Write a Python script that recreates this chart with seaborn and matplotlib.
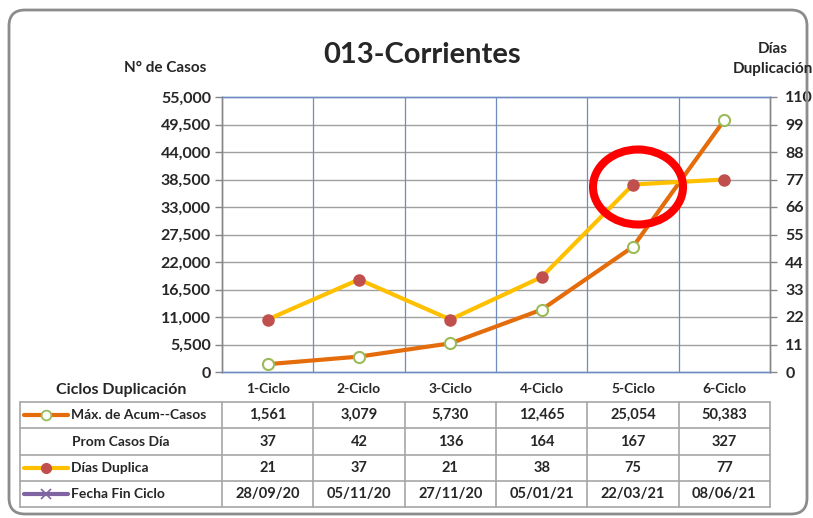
import matplotlib
matplotlib.use("Agg")
import matplotlib.pyplot as plt
import seaborn as sns
import pandas as pd
import numpy as np
from matplotlib.patches import FancyBboxPatch, Ellipse
from matplotlib.lines import Line2D
from matplotlib.ticker import FuncFormatter, FixedLocator

# ---------------- data ----------------
ciclos = ["1-Ciclo", "2-Ciclo", "3-Ciclo", "4-Ciclo", "5-Ciclo", "6-Ciclo"]
max_acum_casos = [1561, 3079, 5730, 12465, 25054, 50383]
prom_casos_dia = [37, 42, 136, 164, 167, 327]
dias_duplica = [21, 37, 21, 38, 75, 77]
fecha_fin_ciclo = ["28/09/20", "05/11/20", "27/11/20", "05/01/21", "22/03/21", "08/06/21"]
left_ticks = [0, 5500, 11000, 16500, 22000, 27500, 33000, 38500, 44000, 49500, 55000]
right_ticks = [0, 11, 22, 33, 44, 55, 66, 77, 88, 99, 110]

df = pd.DataFrame({"ciclo": ciclos, "pos": range(len(ciclos)),
                   "casos": max_acum_casos, "dias": dias_duplica})

# ---------------- style ----------------
sns.set_style("white")
plt.rcParams["font.family"] = ["Lato", "DejaVu Sans"]
plt.rcParams["font.weight"] = "bold"

W, H = 813, 518
fig = plt.figure(figsize=(W / 100, H / 100), dpi=100)

def fx(x):
    return x / W

def fy(y):
    return 1 - y / H

AX_L, AX_R, AX_T, AX_B = 222, 770, 97, 372
ax = fig.add_axes([fx(AX_L), fy(AX_B), fx(AX_R - AX_L), (AX_B - AX_T) / H])

ORANGE = "#E46C0A"
YELLOW = "#FFC000"
GREEN = "#9BBB59"
RED = "#C0504D"
PURPLE = "#8064A2"
GRID = "#A0A0A0"
VBLUE = "#6F8BBF"
AXGREY = "#868686"

# grid
for t in left_ticks[1:-1]:
    ax.axhline(t, color=GRID, lw=1.0, zorder=0)
for i in range(1, len(ciclos)):
    ax.axvline(i - 0.5, color=VBLUE, lw=0.9, zorder=0)

sns.lineplot(data=df, x="pos", y="casos", ax=ax, color=ORANGE, lw=3,
             marker="o", markersize=8, markerfacecolor="white",
             markeredgecolor=GREEN, markeredgewidth=1.5, zorder=3)
ax.set_xlim(-0.5, len(ciclos) - 0.5)
ax.set_ylim(0, 55000)
ax.yaxis.set_major_locator(FixedLocator(left_ticks))
ax.yaxis.set_major_formatter(FuncFormatter(lambda v, p: f"{int(v):,}"))
ax.set_xticks([i - 0.5 for i in range(len(ciclos) + 1)])
ax.set_xticklabels([])
ax.tick_params(axis="x", length=6, color=AXGREY, direction="out", width=1)
ax.tick_params(axis="y", length=5, color=AXGREY, direction="out", width=1,
               labelsize=11.5, pad=3)
for lab in ax.get_yticklabels():
    lab.set_fontweight("bold")
ax.set_xlabel("")
ax.set_ylabel("")

ax2 = ax.twinx()
sns.lineplot(data=df, x="pos", y="dias", ax=ax2, color=YELLOW, lw=3,
             marker="o", markersize=8, markerfacecolor=RED,
             markeredgecolor=RED, markeredgewidth=1, zorder=3)
ax2.set_ylim(0, 110)
ax2.yaxis.set_major_locator(FixedLocator(right_ticks))
ax2.tick_params(axis="y", length=5, color=AXGREY, direction="out", width=1,
                labelsize=11.5, pad=6)
for lab in ax2.get_yticklabels():
    lab.set_fontweight("bold")
ax2.set_ylabel("")
ax2.set_xlim(-0.5, len(ciclos) - 0.5)

for a in (ax, ax2):
    a.spines["left"].set_color(AXGREY)
    a.spines["right"].set_color(AXGREY)
    a.spines["bottom"].set_color(VBLUE)
    a.spines["top"].set_color(VBLUE)
    for s in a.spines.values():
        s.set_linewidth(1)

# ---------------- texts ----------------
fig.text(fx(422), fy(55), "013-Corrientes", ha="center", va="center",
         fontsize=21, fontweight="bold")
fig.text(fx(165), fy(68), "N° de Casos", ha="center", va="center",
         fontsize=11, fontweight="bold")
fig.text(fx(773), fy(59), "Días\nDuplicación", ha="center", va="center",
         fontsize=11, fontweight="bold", linespacing=1.5)

# ---------------- table ----------------
col_w = (AX_R - AX_L) / len(ciclos)
col_edges = [20, AX_L] + [AX_L + col_w * (i + 1) for i in range(len(ciclos))]
row_edges = [402, 428, 455, 481, 507]
TCOL = "#A6A6A6"

def hline(y, x0, x1):
    fig.add_artist(Line2D([fx(x0), fx(x1)], [fy(y), fy(y)], color=TCOL, lw=1.2))

def vline(x, y0, y1):
    fig.add_artist(Line2D([fx(x), fx(x)], [fy(y0), fy(y1)], color=TCOL, lw=1.2))

for y in row_edges:
    hline(y, col_edges[0], col_edges[-1])
for x in col_edges:
    vline(x, row_edges[0], row_edges[-1])

fig.text(fx(121), fy(390), "Ciclos Duplicación", ha="center", va="center",
         fontsize=11.5, fontweight="bold")
for i, c in enumerate(ciclos):
    cx = AX_L + col_w * (i + 0.5)
    fig.text(fx(cx), fy(389), c, ha="center", va="center", fontsize=10,
             fontweight="bold")

rows = [
    ("Máx. de Acum--Casos", [f"{v:,}" for v in max_acum_casos], "casos"),
    ("Prom Casos Día", [str(v) for v in prom_casos_dia], None),
    ("Días Duplica", [str(v) for v in dias_duplica], "dias"),
    ("Fecha Fin Ciclo", fecha_fin_ciclo, "fecha"),
]
for r, (name, vals, key) in enumerate(rows):
    cy = (row_edges[r] + row_edges[r + 1]) / 2
    if key is None:
        fig.text(fx(121), fy(cy), name, ha="center", va="center", fontsize=10,
                 fontweight="bold")
    else:
        if key == "casos":
            fig.add_artist(Line2D([fx(24), fx(68)], [fy(cy), fy(cy)], color=ORANGE, lw=3))
            fig.add_artist(Line2D([fx(46)], [fy(cy)], lw=0, marker="o",
                                  markersize=7, markerfacecolor="white",
                                  markeredgecolor=GREEN, markeredgewidth=1.3))
        elif key == "dias":
            fig.add_artist(Line2D([fx(24), fx(68)], [fy(cy), fy(cy)], color=YELLOW, lw=3))
            fig.add_artist(Line2D([fx(46)], [fy(cy)], lw=0, marker="o", markersize=7,
                                  markerfacecolor=RED, markeredgecolor=RED))
        else:
            fig.add_artist(Line2D([fx(24), fx(68)], [fy(cy), fy(cy)], color=PURPLE, lw=3))
            fig.add_artist(Line2D([fx(46)], [fy(cy)], lw=0, marker="x", markersize=7,
                                  markeredgecolor=PURPLE, markeredgewidth=1.2))
        fig.text(fx(71), fy(cy), name, ha="left", va="center", fontsize=10,
                 fontweight="bold")
    for i, v in enumerate(vals):
        cx = AX_L + col_w * (i + 0.5)
        fig.text(fx(cx), fy(cy), v, ha="center", va="center", fontsize=10.5,
                 fontweight="bold")

# ---------------- frame & highlight ----------------
frame = FancyBboxPatch((0.09, 0.04), 7.98, 5.04,
                       boxstyle="round,pad=0,rounding_size=0.16",
                       transform=fig.dpi_scale_trans, facecolor="none",
                       edgecolor="#8C8C8C", lw=2)
fig.add_artist(frame)

ell = Ellipse((fx(638), fy(187)), fx(90), 75 / H, transform=fig.transFigure,
              facecolor="none", edgecolor="#FF0000", lw=5.8, zorder=10)
fig.add_artist(ell)

fig.savefig("out.png", dpi=100)
